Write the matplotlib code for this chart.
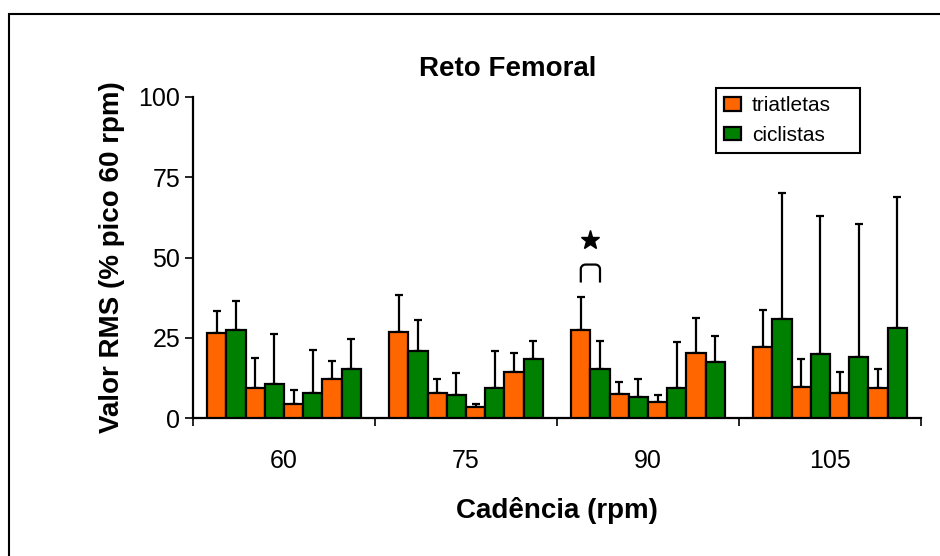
import matplotlib
matplotlib.use("Agg")
import matplotlib.pyplot as plt
import numpy as np
from matplotlib.patches import Rectangle, Patch
from matplotlib.ticker import FixedLocator

plt.rcParams['font.family'] = ['Liberation Sans', 'DejaVu Sans']

# ---- data ----
cadences = ['60', '75', '90', '105']
series_names = ['triatletas', 'ciclistas']
# four consecutive pairs of bars inside each cadence group
tri_mean = [[26.6, 9.4, 4.5, 12.1],
            [26.9, 7.7, 3.5, 14.2],
            [27.5, 7.4, 5.1, 20.3],
            [22.2, 9.8, 7.9, 9.4]]
tri_sd = [[6.8, 9.3, 4.2, 5.7],
          [11.3, 4.4, 1.0, 6.0],
          [10.1, 3.7, 2.0, 10.9],
          [11.4, 8.7, 6.4, 5.8]]
cic_mean = [[27.5, 10.7, 7.9, 15.2],
            [20.8, 7.3, 9.2, 18.3],
            [15.4, 6.4, 9.2, 17.6],
            [30.8, 19.9, 19.1, 28.1]]
cic_sd = [[8.8, 15.5, 13.3, 9.3],
          [9.6, 6.8, 11.7, 5.7],
          [8.6, 5.7, 14.6, 8.0],
          [39.2, 43.0, 41.4, 40.6]]
yticks = [0, 25, 50, 75, 100]
# significance mark: group index, pair index, bracket bottom/top, star height
sig_group, sig_pair = 2, 0
sig_bracket = [42.2, 47.8]
sig_star = 55.4

orange = '#FF6600'
green = '#008000'

W, H = 940, 556
fig = plt.figure(figsize=(W / 100, H / 100), dpi=100)
ax = fig.add_axes([193 / W, 1 - 418 / H, (921 - 193) / W, (418 - 97) / H])

w = 0.1055
n_pairs = 4
for g in range(len(cadences)):
    for p in range(n_pairs):
        for s, (means, sds, col) in enumerate([(tri_mean, tri_sd, orange),
                                                (cic_mean, cic_sd, green)]):
            k = 2 * p + s
            x = g + (k - 3.5) * w
            m = means[g][p]
            e = sds[g][p]
            ax.bar(x, m, width=w, color=col, edgecolor='black', linewidth=1.6,
                   zorder=3)
            ax.errorbar(x, m, yerr=[[0], [e]], fmt='none', ecolor='black',
                        elinewidth=1.6, capsize=2.6, capthick=1.6, zorder=2)

# significance bracket (rounded inverted U) and star
xa = sig_group + (2 * sig_pair - 3.5) * w
xb = sig_group + (2 * sig_pair + 1 - 3.5) * w
lo, hi = sig_bracket
r = 0.25 * (xb - xa)
dy = (hi - lo) * 0.25
t = np.linspace(0, np.pi / 2, 10)
bx = np.concatenate([[xa], xa + r - r * np.cos(t), xb - r + r * np.sin(t), [xb]])
by = np.concatenate([[lo], hi - dy + dy * np.sin(t), hi - dy + dy * np.cos(t), [lo]])
ax.plot(bx, by, color='black', lw=1.6, solid_capstyle='butt', zorder=4)
ax.plot([(xa + xb) / 2], [sig_star], marker='*', color='black',
        markersize=14, zorder=4)

ax.set_xlim(-0.5, len(cadences) - 0.5)
ax.set_ylim(0, 100)
ax.spines['top'].set_visible(False)
ax.spines['right'].set_visible(False)
ax.spines['left'].set_linewidth(1.6)
ax.spines['bottom'].set_linewidth(1.6)

ax.set_yticks(yticks)
ax.set_yticklabels([str(v) for v in yticks])
ax.tick_params(axis='y', length=5.8, width=1.2, pad=3.5, labelsize=18)
ax.xaxis.set_major_locator(FixedLocator(range(len(cadences))))
ax.set_xticklabels(cadences)
ax.xaxis.set_minor_locator(FixedLocator([g - 0.5 for g in range(len(cadences) + 1)]))
ax.tick_params(axis='x', which='major', length=0, pad=22, labelsize=18)
ax.tick_params(axis='x', which='minor', length=5.8, width=1.2)

ax.set_xlabel('Cadência (rpm)', fontsize=20, fontweight='bold')
ax.xaxis.set_label_coords(0.5, -0.245)
ax.set_ylabel('Valor RMS (% pico 60 rpm)', fontsize=20, fontweight='bold')
ax.yaxis.set_label_coords(-0.094, 0.5)

fig.text(508 / W, 1 - 76 / H, 'Reto Femoral', fontsize=20, fontweight='bold',
         ha='center', va='baseline')

handles = [Patch(facecolor=orange, edgecolor='black', linewidth=1.6),
           Patch(facecolor=green, edgecolor='black', linewidth=1.6)]
leg = ax.legend(handles, series_names, loc='upper left',
                bbox_to_anchor=(716 / W, 1 - 88 / H - 0.01, 144 / W, 0.01),
                bbox_transform=fig.transFigure, mode='expand',
                fontsize=15, frameon=True, fancybox=False, borderaxespad=0,
                borderpad=0.4, handlelength=0.78, handleheight=0.62,
                handletextpad=0.55, labelspacing=0.5)
leg.get_frame().set_edgecolor('black')
leg.get_frame().set_linewidth(1.5)
leg.get_frame().set_alpha(None)

# outer frame (cut by the image edges at right and bottom)
fig.patches.append(Rectangle((8.5 / W, -0.1), 1.2, 1 - 14 / H + 0.1,
                             transform=fig.transFigure, fill=False,
                             edgecolor='black', linewidth=1.5))

fig.savefig('out.png', dpi=100)
